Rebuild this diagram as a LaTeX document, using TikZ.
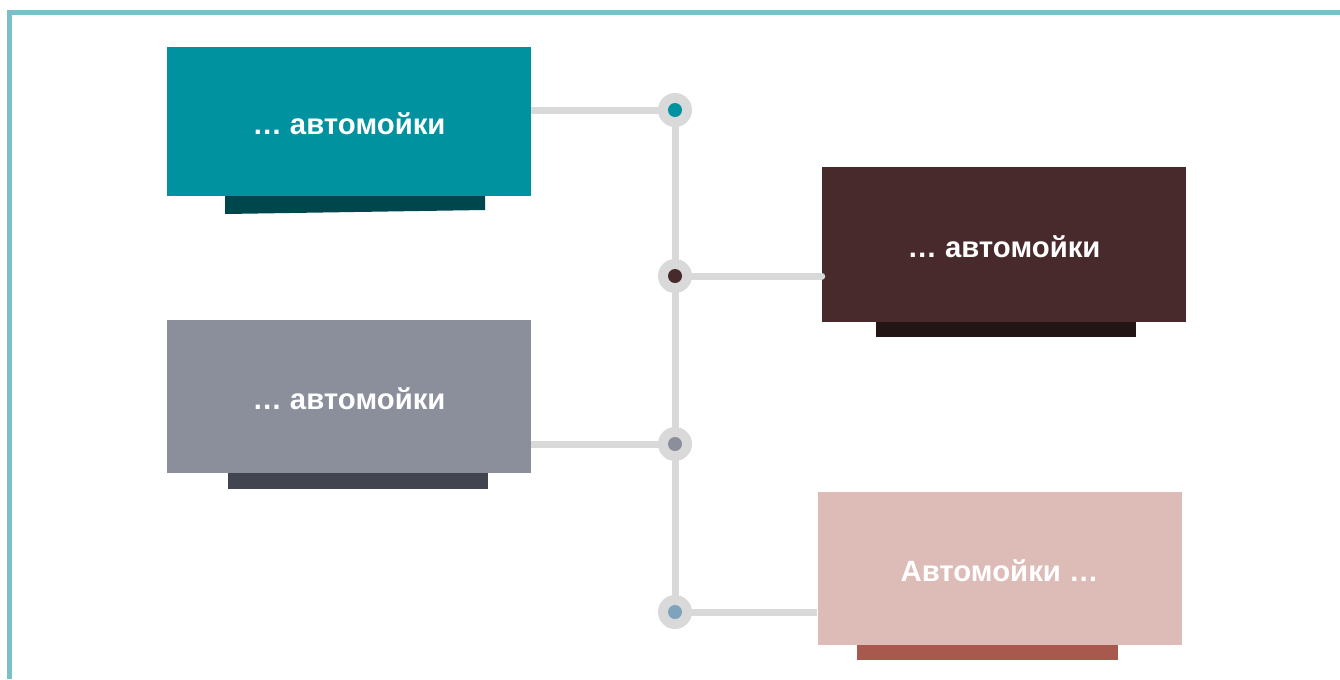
\documentclass[tikz,border=0pt]{standalone}
\usepackage{fontspec}
\setmainfont{Liberation Sans}
\usetikzlibrary{positioning}
\definecolor{framecol}{HTML}{7BBFC8}
\definecolor{linecol}{HTML}{D9D9D9}
\definecolor{cteal}{HTML}{00929F}
\definecolor{cteald}{HTML}{00474D}
\definecolor{cgrey}{HTML}{8B8E9B}
\definecolor{cgreyd}{HTML}{424550}
\definecolor{cbrown}{HTML}{482A2D}
\definecolor{cbrownd}{HTML}{231516}
\definecolor{cpink}{HTML}{DDBBB6}
\definecolor{cpinkd}{HTML}{A8594D}
\definecolor{cblue}{HTML}{7FA3BC}

\begin{document}
\begin{tikzpicture}[x=0.75pt,y=-0.75pt,
    card/.style={rectangle,inner sep=0pt,minimum width=273pt,text=white,
        text height=19.5pt,text depth=0pt,
        font=\bfseries\fontsize{22}{26}\selectfont},
    hub/.style={circle,fill=linecol,inner sep=0pt,minimum size=25.5pt},
    dot/.style={circle,inner sep=0pt,minimum size=10.5pt},
    link/.style={linecol,line width=5.25pt}]
    \useasboundingbox (0,0) rectangle (1340,679);
    \fill[white] (0,0) rectangle (1340,679);
    %frame
    \draw[framecol,line width=3.75pt] (9.2,679) -- (9.2,12.5) -- (1340,12.5);
    %shadows below the cards
    \fill[cteald] (225,196) -- (485,196) -- (485,210) -- (225,214) -- cycle;
    \fill[cgreyd] (228,473) rectangle (488,489);
    \fill[cbrownd] (876,320) rectangle (1136,337);
    \fill[cpinkd] (857,645) rectangle (1118,660);
    %cards
    \node[card,fill=cteal,minimum height=111.75pt] (b1) at (349,121.5) {… автомойки};
    \node[card,fill=cgrey,minimum height=114.75pt] (b2) at (349,396.5) {… автомойки};
    \node[card,fill=cbrown,minimum height=116.25pt] (b3) at (1004,244.5) {… автомойки};
    \node[card,fill=cpink,minimum height=114.75pt] (b4) at (999.5,568.5) {Автомойки …};
    %timeline
    \coordinate (p1) at (675,110);
    \coordinate (p2) at (675,276);
    \coordinate (p3) at (675,444);
    \coordinate (p4) at (675,612);
    \draw[link] (p1) -- (p4);
    \draw[link] (b1.east |- p1) -- (p1);
    \draw[link,line cap=round] (p2) -- (b3.west |- p2);
    \draw[link] (b2.east |- p3) -- (p3);
    \draw[link] (p4) -- (b4.west |- p4);
    \node[hub] (h1) at (p1) {};
    \node[hub] (h2) at (p2) {};
    \node[hub] (h3) at (p3) {};
    \node[hub] (h4) at (p4) {};
    \node[dot,fill=cteal] (d1) at (h1) {};
    \node[dot,fill=cbrown] (d2) at (h2) {};
    \node[dot,fill=cgrey] (d3) at (h3) {};
    \node[dot,fill=cblue] (d4) at (h4) {};
\end{tikzpicture}
\end{document}
